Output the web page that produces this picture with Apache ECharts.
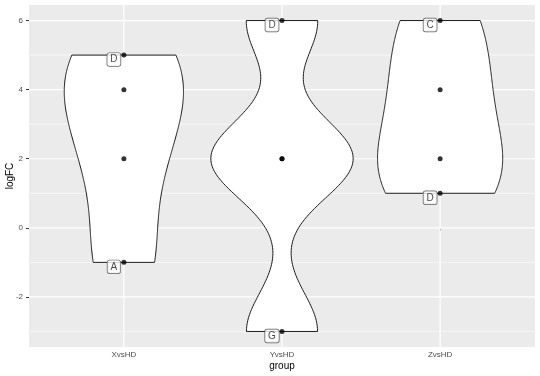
<!DOCTYPE html>
<html><head><meta charset="utf-8">
<script src="https://cdn.jsdelivr.net/npm/echarts@6/dist/echarts.min.js"></script>
<style>html,body{margin:0;padding:0;background:#fff}#c{width:540px;height:376px}</style>
</head><body><div id="c"></div>
<script>
const groups = ['XvsHD', 'YvsHD', 'ZvsHD'];
const valuesX = [5, 4, 2, -1];
const valuesY = [6, 2, 2, -3];
const valuesZ = [6, 4, 2, 1];
const labelsX = ['D', '', '', 'A'];
const labelsY = ['D', '', '', 'G'];
const labelsZ = ['C', '', '', 'D'];
const yTicks = [-2, 0, 2, 4, 6];
const yMinor = [-3, -1, 1, 3, 5];

const allValues = [valuesX, valuesY, valuesZ];
const allLabels = [labelsX, labelsY, labelsZ];

function quantile7(sorted, p) {
  const h = (sorted.length - 1) * p;
  const lo = Math.floor(h), hi = Math.ceil(h);
  return sorted[lo] + (h - lo) * (sorted[hi] - sorted[lo]);
}
function bwNrd0(x) {
  const n = x.length;
  const m = x.reduce((a, b) => a + b, 0) / n;
  const sd = Math.sqrt(x.reduce((a, b) => a + (b - m) * (b - m), 0) / (n - 1));
  const s = x.slice().sort((a, b) => a - b);
  const iqr = quantile7(s, 0.75) - quantile7(s, 0.25);
  let lo = Math.min(sd, iqr / 1.34);
  if (!(lo > 0)) lo = sd || Math.abs(s[0]) || 1;
  return 0.9 * lo * Math.pow(n, -0.2);
}
function density(x, bw, y) {
  let s = 0;
  for (const xi of x) { const z = (y - xi) / bw; s += Math.exp(-0.5 * z * z); }
  return s / (x.length * bw * Math.sqrt(2 * Math.PI));
}
const NPTS = 200;
const profiles = allValues.map(vals => {
  const bw = bwNrd0(vals);
  const lo = Math.min(...vals), hi = Math.max(...vals);
  const pts = [];
  for (let k = 0; k <= NPTS; k++) {
    const y = lo + (hi - lo) * k / NPTS;
    pts.push([y, density(vals, bw, y)]);
  }
  return pts;
});
const gmax = Math.max(...profiles.map(p => Math.max(...p.map(q => q[1]))));

const pointData = [];
const labelData = [];
allValues.forEach((vals, gi) => {
  vals.forEach((v, j) => {
    pointData.push([gi + 1, v]);
    if (allLabels[gi][j]) labelData.push({ name: allLabels[gi][j], value: [gi + 1, v] });
  });
});

const gridData = [];
yTicks.forEach(v => gridData.push([0, v, 1]));
yMinor.forEach(v => gridData.push([0, v, 0]));
groups.forEach((g, i) => gridData.push([i + 1, 0, 2]));

const XMIN = 0.4, XMAX = 3.6, YMIN = -3.45, YMAX = 6.45;

const chart = echarts.init(document.getElementById('c'), null, { renderer: 'canvas' });
chart.setOption({
  animation: false,
  backgroundColor: '#ffffff',
  grid: { left: 29, right: 5, top: 5, bottom: 29, show: true, backgroundColor: '#EBEBEB', borderWidth: 0,
    containLabel: false, outerBoundsMode: 'none' },
  xAxis: {
    type: 'value', min: XMIN, max: XMAX,
    splitLine: { show: false },
    axisLine: { show: false },
    axisTick: { show: true, customValues: [1, 2, 3], length: 3, lineStyle: { color: '#333333', width: 1 } },
    axisLabel: { customValues: [1, 2, 3], formatter: v => groups[Math.round(v) - 1], fontSize: 8, color: '#4D4D4D', margin: 4, fontFamily: 'Liberation Sans, Arial, sans-serif' },
    name: 'group', nameLocation: 'middle', nameGap: 14, nameMoveOverlap: false,
    nameTextStyle: { fontSize: 10, color: '#000', fontFamily: 'Liberation Sans, Arial, sans-serif', verticalAlign: 'top' }
  },
  yAxis: {
    type: 'value', min: YMIN, max: YMAX,
    splitLine: { show: false },
    axisLine: { show: false },
    axisTick: { show: true, customValues: yTicks, length: 3, lineStyle: { color: '#333333', width: 1 } },
    axisLabel: { customValues: yTicks, fontSize: 8, color: '#4D4D4D', margin: 6, fontFamily: 'Liberation Sans, Arial, sans-serif' },
    name: 'logFC', nameLocation: 'middle', nameGap: 19, nameRotate: 90, nameMoveOverlap: false,
    nameTextStyle: { fontSize: 10, color: '#000', fontFamily: 'Liberation Sans, Arial, sans-serif', verticalAlign: 'middle' }
  },
  series: [
    {
      type: 'custom', z: 1, silent: true,
      data: gridData,
      renderItem: (params, api) => {
        const kind = api.value(2);
        let p1, p2;
        if (kind === 2) {
          p1 = api.coord([api.value(0), YMIN]); p2 = api.coord([api.value(0), YMAX]);
        } else {
          p1 = api.coord([XMIN, api.value(1)]); p2 = api.coord([XMAX, api.value(1)]);
        }
        return { type: 'line', shape: { x1: p1[0], y1: p1[1], x2: p2[0], y2: p2[1] },
          style: { stroke: '#ffffff', lineWidth: kind === 0 ? 0.6 : 1.2 } };
      }
    },
    {
      type: 'custom', z: 2, silent: true,
      data: groups.map((g, i) => [i + 1, 0]),
      renderItem: (params, api) => {
        const gi = params.dataIndex;
        const cx = api.value(0);
        const prof = profiles[gi];
        const pts = [];
        for (const [y, d] of prof) pts.push(api.coord([cx - 0.45 * d / gmax, y]));
        for (let k = prof.length - 1; k >= 0; k--) pts.push(api.coord([cx + 0.45 * prof[k][1] / gmax, prof[k][0]]));
        return { type: 'polygon', shape: { points: pts },
          style: { fill: '#ffffff', stroke: '#1a1a1a', lineWidth: 1 } };
      }
    },
    {
      type: 'scatter', z: 3, silent: true,
      data: pointData, symbolSize: 5, itemStyle: { color: '#000000' }
    },
    {
      type: 'scatter', z: 4, silent: true,
      data: labelData, symbolSize: 0,
      label: {
        show: true, position: 'inside', offset: [-10, 4.5],
        formatter: p => p.name,
        fontSize: 10, color: '#1a1a1a', fontFamily: 'Liberation Sans, Arial, sans-serif',
        backgroundColor: '#ffffff', borderColor: '#444444', borderWidth: 0.7, borderRadius: 2,
        padding: [2, 3, 1, 3]
      }
    }
  ]
});
</script></body></html>
